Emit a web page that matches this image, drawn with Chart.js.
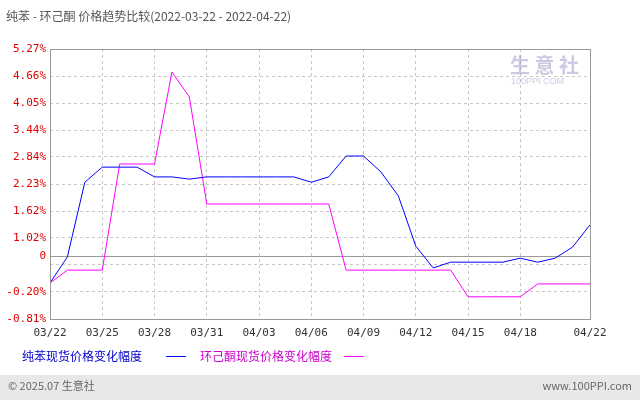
<!DOCTYPE html><html><head><meta charset="utf-8">
<script src="https://cdn.jsdelivr.net/npm/chart.js@4"></script>
<style>body{margin:0;background:#fff}#w{position:relative;width:640px;height:400px}</style></head><body>
<div id="w"><canvas id="c" width="640" height="400"></canvas></div>
<script>
const dayTicks=[0,3,6,9,12,15,18,21,24,27,31];
const dateLabels=['03/22','03/25','03/28','03/31','04/03','04/06','04/09','04/12','04/15','04/18','04/22'];
const yTicks=[-0.81,-0.20,0.41,0.61,1.02,1.62,2.23,2.84,3.44,4.05,4.66,5.27];
const yLabels=['-0.81%','-0.20%','','0','1.02%','1.62%','2.23%','2.84%','3.44%','4.05%','4.66%','5.27%'];
const benzene=[0.0,0.59,2.27,2.61,2.61,2.61,2.39,2.39,2.34,2.39,2.39,2.39,2.39,2.39,2.39,2.27,2.39,2.86,2.86,2.5,1.96,0.83,0.34,0.47,0.47,0.47,0.47,0.56,0.47,0.56,0.81,1.31];
const cyclo=[0.0,0.29,0.29,0.29,2.68,2.68,2.68,4.75,4.19,1.78,1.78,1.78,1.78,1.78,1.78,1.78,1.78,0.29,0.29,0.29,0.29,0.29,0.29,0.29,-0.31,-0.31,-0.31,-0.31,-0.02,-0.02,-0.02,-0.02];
const pts=a=>a.map((v,i)=>({x:i,y:v}));
const zero={id:'zero',beforeDatasetsDraw(ch){const c=ch.ctx,a=ch.chartArea,y=Math.round(ch.scales.y.getPixelForValue(0.61))+0.5;
c.save();c.strokeStyle='#999';c.lineWidth=1;c.beginPath();c.moveTo(a.left,y);c.lineTo(a.right,y);c.stroke();c.restore();}};
const deco={id:'deco',afterDraw(ch){const c=ch.ctx;const a=ch.chartArea;c.save();
c.strokeStyle='#999';c.lineWidth=1;c.strokeRect(a.left+0.5,a.top+0.5,a.right-a.left,a.bottom-a.top);
c.font='12px "Noto Sans CJK SC", sans-serif';c.fillStyle='#555';c.textBaseline='middle';
c.fillText('纯苯 - 环己酮 价格趋势比较(2022-03-22 - 2022-04-22)',6,16);
c.fillStyle='#0000cc';c.fillText('纯苯现货价格变化幅度',22,356);
c.strokeStyle='#0000ff';c.beginPath();c.moveTo(166,356.5);c.lineTo(186,356.5);c.stroke();
c.fillStyle='#cc00cc';c.fillText('环己酮现货价格变化幅度',200,356);
c.strokeStyle='#ff00ff';c.beginPath();c.moveTo(344,356.5);c.lineTo(364,356.5);c.stroke();
c.fillStyle='#e8e8e8';c.fillRect(0,375,640,25);c.fillStyle='#666';c.font='11px "Noto Sans CJK SC", sans-serif';
c.fillText('© 2025.07 生意社',8,386);c.textAlign='right';c.fillText('www.100PPI.com',632,386);
c.textAlign='left';c.font='bold 20px "Noto Sans CJK SC", sans-serif';c.fillStyle='rgba(150,150,200,0.5)';c.fillText('生 意 社',510,65);
c.font='9px sans-serif';c.fillText('100PPI.COM',511,82);
c.restore();}};
new Chart(document.getElementById('c'),{type:'line',
data:{datasets:[{data:pts(benzene),borderColor:'#0000ff',borderWidth:1,pointRadius:0,tension:0},
{data:pts(cyclo),borderColor:'#ff00ff',borderWidth:1,pointRadius:0,tension:0}]},
options:{responsive:false,animation:false,layout:{padding:{left:0,top:49,right:50,bottom:61}},
plugins:{legend:{display:false},tooltip:{enabled:false}},
scales:{x:{type:'linear',min:0,max:31,afterBuildTicks:s=>{s.ticks=dayTicks.map(v=>({value:v}))},
afterFit:s=>{s.height=20},border:{display:false,dash:[3,3]},
grid:{color:'#c8c8c8',tickLength:0},
ticks:{color:'#333',font:{size:11,family:'DejaVu Sans Mono'},padding:8,maxRotation:0,autoSkip:false,callback:(v)=>dateLabels[dayTicks.indexOf(v)]}},
y:{min:-0.81,max:5.27,afterBuildTicks:s=>{s.ticks=yTicks.map(v=>({value:v}))},afterFit:s=>{s.width=50},
border:{display:false,dash:[3,3]},
grid:{tickLength:0,color:c=>c.tick&&c.tick.value===0.61?'rgba(0,0,0,0)':'#c8c8c8'},
ticks:{color:'#e00000',font:{size:11,family:'DejaVu Sans Mono'},padding:4,autoSkip:false,callback:(v)=>yLabels[yTicks.indexOf(v)]}}}},
plugins:[zero,deco]});
</script></body></html>
